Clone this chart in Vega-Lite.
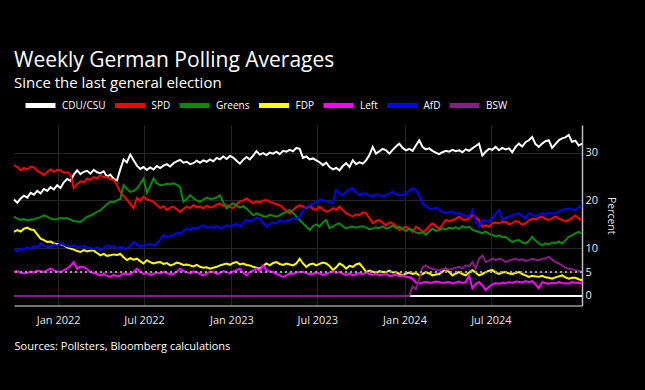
{
  "$schema": "https://vega.github.io/schema/vega-lite/v6.json",
  "width": 568,
  "height": 180.5,
  "autosize": {"type": "none"},
  "padding": {"left": 14, "top": 125, "right": 63, "bottom": 84.5},
  "background": "#000000",
  "title": {
    "text": "Weekly German Polling Averages",
    "subtitle": "Since the last general election",
    "anchor": "start",
    "frame": "group",
    "offset": -3,
    "font": "Open Sans",
    "subtitleFont": "Open Sans",
    "fontSize": 21,
    "subtitleFontSize": 15,
    "fontWeight": "normal",
    "subtitleFontWeight": "normal",
    "color": "#ffffff",
    "subtitleColor": "#ffffff",
    "subtitlePadding": 5.5
  },
  "data": {
    "values": [
      {"d":"2021-09-30","CDU/CSU":20.2,"SPD":27.4,"Greens":16.6,"FDP":13.4,"Left":5.0,"AfD":9.6,"BSW":0},
      {"d":"2021-10-07","CDU/CSU":19.5,"SPD":27.0,"Greens":16.2,"FDP":13.8,"Left":5.2,"AfD":9.4,"BSW":0},
      {"d":"2021-10-14","CDU/CSU":20.4,"SPD":26.3,"Greens":15.9,"FDP":13.5,"Left":4.9,"AfD":9.9,"BSW":0},
      {"d":"2021-10-21","CDU/CSU":21.0,"SPD":26.8,"Greens":16.1,"FDP":14.1,"Left":4.7,"AfD":9.7,"BSW":0},
      {"d":"2021-10-28","CDU/CSU":20.6,"SPD":26.5,"Greens":15.8,"FDP":14.3,"Left":4.8,"AfD":10.2,"BSW":0},
      {"d":"2021-11-04","CDU/CSU":21.6,"SPD":27.1,"Greens":16.0,"FDP":13.9,"Left":5.1,"AfD":9.8,"BSW":0},
      {"d":"2021-11-11","CDU/CSU":21.2,"SPD":26.9,"Greens":16.0,"FDP":13.8,"Left":4.9,"AfD":10.4,"BSW":0},
      {"d":"2021-11-18","CDU/CSU":22.0,"SPD":26.2,"Greens":16.3,"FDP":12.9,"Left":5.3,"AfD":10.1,"BSW":0},
      {"d":"2021-11-25","CDU/CSU":21.5,"SPD":25.8,"Greens":16.5,"FDP":12.0,"Left":5.2,"AfD":11.0,"BSW":0},
      {"d":"2021-12-02","CDU/CSU":22.4,"SPD":25.3,"Greens":16.9,"FDP":11.7,"Left":5.0,"AfD":10.6,"BSW":0},
      {"d":"2021-12-09","CDU/CSU":22.0,"SPD":26.0,"Greens":16.6,"FDP":11.3,"Left":5.4,"AfD":10.2,"BSW":0},
      {"d":"2021-12-16","CDU/CSU":22.8,"SPD":26.5,"Greens":16.2,"FDP":11.4,"Left":5.7,"AfD":10.3,"BSW":0},
      {"d":"2021-12-23","CDU/CSU":22.3,"SPD":26.0,"Greens":16.0,"FDP":11.0,"Left":5.3,"AfD":10.8,"BSW":0},
      {"d":"2021-12-30","CDU/CSU":23.2,"SPD":26.4,"Greens":16.1,"FDP":10.9,"Left":5.1,"AfD":10.5,"BSW":0},
      {"d":"2022-01-06","CDU/CSU":22.6,"SPD":26.3,"Greens":16.3,"FDP":10.8,"Left":5.0,"AfD":11.0,"BSW":0},
      {"d":"2022-01-13","CDU/CSU":23.8,"SPD":25.8,"Greens":16.2,"FDP":10.6,"Left":5.4,"AfD":10.7,"BSW":0},
      {"d":"2022-01-20","CDU/CSU":24.5,"SPD":25.9,"Greens":16.3,"FDP":10.2,"Left":5.7,"AfD":10.4,"BSW":0},
      {"d":"2022-01-27","CDU/CSU":24.1,"SPD":25.4,"Greens":16.0,"FDP":9.9,"Left":6.3,"AfD":10.3,"BSW":0},
      {"d":"2022-02-03","CDU/CSU":25.4,"SPD":22.6,"Greens":15.7,"FDP":9.7,"Left":7.1,"AfD":10.6,"BSW":0},
      {"d":"2022-02-10","CDU/CSU":26.3,"SPD":23.4,"Greens":15.6,"FDP":9.4,"Left":5.7,"AfD":10.2,"BSW":0},
      {"d":"2022-02-17","CDU/CSU":25.5,"SPD":24.0,"Greens":15.5,"FDP":9.2,"Left":6.1,"AfD":10.3,"BSW":0},
      {"d":"2022-02-24","CDU/CSU":26.0,"SPD":23.8,"Greens":16.0,"FDP":9.6,"Left":6.0,"AfD":10.5,"BSW":0},
      {"d":"2022-03-03","CDU/CSU":26.2,"SPD":24.6,"Greens":16.6,"FDP":9.3,"Left":5.6,"AfD":10.1,"BSW":0},
      {"d":"2022-03-10","CDU/CSU":25.6,"SPD":24.3,"Greens":16.8,"FDP":9.5,"Left":5.0,"AfD":10.0,"BSW":0},
      {"d":"2022-03-17","CDU/CSU":26.4,"SPD":24.9,"Greens":17.2,"FDP":9.5,"Left":4.8,"AfD":9.8,"BSW":0},
      {"d":"2022-03-24","CDU/CSU":25.9,"SPD":24.6,"Greens":17.6,"FDP":9.0,"Left":4.6,"AfD":10.2,"BSW":0},
      {"d":"2022-03-31","CDU/CSU":25.7,"SPD":25.3,"Greens":17.9,"FDP":8.5,"Left":4.3,"AfD":9.6,"BSW":0},
      {"d":"2022-04-07","CDU/CSU":26.1,"SPD":24.8,"Greens":18.6,"FDP":8.8,"Left":4.6,"AfD":10.0,"BSW":0},
      {"d":"2022-04-14","CDU/CSU":25.0,"SPD":24.9,"Greens":19.2,"FDP":8.4,"Left":4.2,"AfD":10.6,"BSW":0},
      {"d":"2022-04-21","CDU/CSU":25.4,"SPD":24.5,"Greens":19.7,"FDP":8.5,"Left":4.0,"AfD":10.2,"BSW":0},
      {"d":"2022-04-28","CDU/CSU":24.5,"SPD":24.3,"Greens":19.6,"FDP":8.7,"Left":4.4,"AfD":10.4,"BSW":0},
      {"d":"2022-05-05","CDU/CSU":24.2,"SPD":23.2,"Greens":20.0,"FDP":8.6,"Left":4.1,"AfD":9.9,"BSW":0},
      {"d":"2022-05-12","CDU/CSU":26.5,"SPD":21.8,"Greens":20.3,"FDP":8.8,"Left":4.3,"AfD":10.3,"BSW":0},
      {"d":"2022-05-19","CDU/CSU":28.6,"SPD":21.0,"Greens":23.2,"FDP":8.1,"Left":4.7,"AfD":10.0,"BSW":0},
      {"d":"2022-05-26","CDU/CSU":28.0,"SPD":20.1,"Greens":22.4,"FDP":7.5,"Left":4.5,"AfD":9.9,"BSW":0},
      {"d":"2022-06-02","CDU/CSU":29.6,"SPD":19.3,"Greens":21.8,"FDP":7.9,"Left":4.6,"AfD":10.5,"BSW":0},
      {"d":"2022-06-09","CDU/CSU":28.4,"SPD":18.4,"Greens":22.0,"FDP":7.6,"Left":5.0,"AfD":11.3,"BSW":0},
      {"d":"2022-06-16","CDU/CSU":27.3,"SPD":20.5,"Greens":22.5,"FDP":7.8,"Left":5.7,"AfD":10.8,"BSW":0},
      {"d":"2022-06-23","CDU/CSU":26.6,"SPD":19.9,"Greens":23.5,"FDP":7.3,"Left":5.0,"AfD":10.3,"BSW":0},
      {"d":"2022-06-30","CDU/CSU":27.0,"SPD":20.8,"Greens":24.6,"FDP":6.8,"Left":4.6,"AfD":10.6,"BSW":0},
      {"d":"2022-07-07","CDU/CSU":26.4,"SPD":20.2,"Greens":21.6,"FDP":7.5,"Left":4.8,"AfD":10.6,"BSW":0},
      {"d":"2022-07-14","CDU/CSU":26.9,"SPD":20.0,"Greens":23.0,"FDP":7.1,"Left":4.4,"AfD":10.9,"BSW":0},
      {"d":"2022-07-21","CDU/CSU":26.5,"SPD":19.7,"Greens":24.6,"FDP":6.8,"Left":4.6,"AfD":10.5,"BSW":0},
      {"d":"2022-07-28","CDU/CSU":27.2,"SPD":19.0,"Greens":23.6,"FDP":7.0,"Left":4.9,"AfD":11.0,"BSW":0},
      {"d":"2022-08-04","CDU/CSU":26.8,"SPD":18.4,"Greens":23.2,"FDP":7.1,"Left":4.7,"AfD":11.8,"BSW":0},
      {"d":"2022-08-11","CDU/CSU":27.3,"SPD":18.8,"Greens":23.3,"FDP":6.7,"Left":5.0,"AfD":12.7,"BSW":0},
      {"d":"2022-08-18","CDU/CSU":27.6,"SPD":18.0,"Greens":23.5,"FDP":6.9,"Left":4.8,"AfD":12.3,"BSW":0},
      {"d":"2022-08-25","CDU/CSU":27.1,"SPD":18.5,"Greens":23.4,"FDP":6.4,"Left":4.5,"AfD":12.5,"BSW":0},
      {"d":"2022-09-01","CDU/CSU":27.8,"SPD":18.7,"Greens":23.6,"FDP":6.6,"Left":4.6,"AfD":12.7,"BSW":0},
      {"d":"2022-09-08","CDU/CSU":28.2,"SPD":18.1,"Greens":23.3,"FDP":7.0,"Left":5.0,"AfD":13.2,"BSW":0},
      {"d":"2022-09-15","CDU/CSU":28.5,"SPD":17.6,"Greens":22.8,"FDP":6.8,"Left":5.7,"AfD":13.0,"BSW":0},
      {"d":"2022-09-22","CDU/CSU":27.9,"SPD":18.2,"Greens":19.7,"FDP":6.5,"Left":5.2,"AfD":13.6,"BSW":0},
      {"d":"2022-09-29","CDU/CSU":28.1,"SPD":18.7,"Greens":20.3,"FDP":6.6,"Left":5.0,"AfD":14.1,"BSW":0},
      {"d":"2022-10-06","CDU/CSU":27.6,"SPD":18.4,"Greens":21.1,"FDP":6.4,"Left":4.7,"AfD":13.8,"BSW":0},
      {"d":"2022-10-13","CDU/CSU":27.8,"SPD":19.0,"Greens":20.5,"FDP":6.2,"Left":5.1,"AfD":14.3,"BSW":0},
      {"d":"2022-10-20","CDU/CSU":28.3,"SPD":18.6,"Greens":20.0,"FDP":6.5,"Left":5.0,"AfD":14.0,"BSW":0},
      {"d":"2022-10-27","CDU/CSU":27.9,"SPD":18.7,"Greens":19.7,"FDP":6.1,"Left":4.6,"AfD":14.5,"BSW":0},
      {"d":"2022-11-03","CDU/CSU":28.4,"SPD":18.3,"Greens":20.2,"FDP":5.9,"Left":4.3,"AfD":14.8,"BSW":0},
      {"d":"2022-11-10","CDU/CSU":28.1,"SPD":18.9,"Greens":20.6,"FDP":6.0,"Left":4.7,"AfD":14.3,"BSW":0},
      {"d":"2022-11-17","CDU/CSU":28.6,"SPD":18.5,"Greens":20.3,"FDP":5.7,"Left":5.1,"AfD":14.5,"BSW":0},
      {"d":"2022-11-24","CDU/CSU":28.2,"SPD":18.7,"Greens":20.4,"FDP":5.9,"Left":5.0,"AfD":14.2,"BSW":0},
      {"d":"2022-12-01","CDU/CSU":28.9,"SPD":19.1,"Greens":20.6,"FDP":6.1,"Left":4.6,"AfD":14.6,"BSW":0},
      {"d":"2022-12-08","CDU/CSU":28.6,"SPD":19.4,"Greens":21.1,"FDP":6.4,"Left":4.8,"AfD":14.1,"BSW":0},
      {"d":"2022-12-15","CDU/CSU":29.2,"SPD":18.8,"Greens":19.6,"FDP":6.6,"Left":5.2,"AfD":14.4,"BSW":0},
      {"d":"2022-12-22","CDU/CSU":28.7,"SPD":19.0,"Greens":18.3,"FDP":6.8,"Left":5.0,"AfD":14.8,"BSW":0},
      {"d":"2022-12-29","CDU/CSU":29.3,"SPD":18.6,"Greens":19.0,"FDP":6.5,"Left":4.7,"AfD":14.5,"BSW":0},
      {"d":"2023-01-05","CDU/CSU":29.0,"SPD":18.4,"Greens":19.4,"FDP":6.9,"Left":5.1,"AfD":14.8,"BSW":0},
      {"d":"2023-01-12","CDU/CSU":28.3,"SPD":19.2,"Greens":18.9,"FDP":7.1,"Left":5.4,"AfD":15.1,"BSW":0},
      {"d":"2023-01-19","CDU/CSU":27.7,"SPD":19.8,"Greens":18.5,"FDP":6.6,"Left":5.7,"AfD":14.5,"BSW":0},
      {"d":"2023-01-26","CDU/CSU":28.5,"SPD":20.0,"Greens":18.8,"FDP":6.8,"Left":4.9,"AfD":15.2,"BSW":0},
      {"d":"2023-02-02","CDU/CSU":29.1,"SPD":20.4,"Greens":18.3,"FDP":6.5,"Left":4.3,"AfD":15.9,"BSW":0},
      {"d":"2023-02-09","CDU/CSU":28.6,"SPD":19.9,"Greens":17.6,"FDP":6.4,"Left":5.0,"AfD":15.6,"BSW":0},
      {"d":"2023-02-16","CDU/CSU":29.4,"SPD":19.4,"Greens":16.9,"FDP":6.1,"Left":5.3,"AfD":15.9,"BSW":0},
      {"d":"2023-02-23","CDU/CSU":30.3,"SPD":19.8,"Greens":17.3,"FDP":5.9,"Left":5.7,"AfD":16.4,"BSW":0},
      {"d":"2023-03-02","CDU/CSU":29.6,"SPD":19.6,"Greens":17.0,"FDP":5.7,"Left":5.2,"AfD":16.2,"BSW":0},
      {"d":"2023-03-09","CDU/CSU":29.9,"SPD":20.0,"Greens":16.7,"FDP":6.3,"Left":6.4,"AfD":15.3,"BSW":0},
      {"d":"2023-03-16","CDU/CSU":29.5,"SPD":20.1,"Greens":16.6,"FDP":6.8,"Left":5.4,"AfD":14.5,"BSW":0},
      {"d":"2023-03-23","CDU/CSU":30.0,"SPD":19.7,"Greens":17.0,"FDP":6.4,"Left":5.1,"AfD":15.0,"BSW":0},
      {"d":"2023-03-30","CDU/CSU":29.8,"SPD":19.5,"Greens":16.8,"FDP":6.9,"Left":5.0,"AfD":15.4,"BSW":0},
      {"d":"2023-04-06","CDU/CSU":30.2,"SPD":19.2,"Greens":16.6,"FDP":7.1,"Left":4.6,"AfD":15.2,"BSW":0},
      {"d":"2023-04-13","CDU/CSU":29.7,"SPD":19.0,"Greens":16.9,"FDP":6.7,"Left":4.3,"AfD":15.9,"BSW":0},
      {"d":"2023-04-20","CDU/CSU":30.4,"SPD":18.4,"Greens":17.3,"FDP":6.5,"Left":4.0,"AfD":15.5,"BSW":0},
      {"d":"2023-04-27","CDU/CSU":30.2,"SPD":17.8,"Greens":17.6,"FDP":6.8,"Left":4.3,"AfD":15.7,"BSW":0},
      {"d":"2023-05-04","CDU/CSU":30.6,"SPD":17.3,"Greens":18.0,"FDP":6.6,"Left":4.7,"AfD":15.9,"BSW":0},
      {"d":"2023-05-11","CDU/CSU":30.3,"SPD":18.0,"Greens":17.4,"FDP":6.4,"Left":4.6,"AfD":16.3,"BSW":0},
      {"d":"2023-05-18","CDU/CSU":31.0,"SPD":18.6,"Greens":16.6,"FDP":6.8,"Left":4.9,"AfD":16.0,"BSW":0},
      {"d":"2023-05-25","CDU/CSU":30.8,"SPD":19.0,"Greens":15.9,"FDP":7.8,"Left":5.0,"AfD":16.6,"BSW":0},
      {"d":"2023-06-01","CDU/CSU":28.9,"SPD":18.7,"Greens":15.2,"FDP":6.8,"Left":5.0,"AfD":17.8,"BSW":0},
      {"d":"2023-06-08","CDU/CSU":29.2,"SPD":18.4,"Greens":14.5,"FDP":6.1,"Left":4.8,"AfD":18.7,"BSW":0},
      {"d":"2023-06-15","CDU/CSU":28.6,"SPD":18.9,"Greens":13.8,"FDP":6.6,"Left":4.5,"AfD":18.9,"BSW":0},
      {"d":"2023-06-22","CDU/CSU":28.8,"SPD":18.2,"Greens":14.6,"FDP":6.8,"Left":4.6,"AfD":19.4,"BSW":0},
      {"d":"2023-06-29","CDU/CSU":28.4,"SPD":18.0,"Greens":15.0,"FDP":6.4,"Left":4.9,"AfD":19.6,"BSW":0},
      {"d":"2023-07-06","CDU/CSU":28.0,"SPD":18.7,"Greens":14.5,"FDP":6.7,"Left":4.7,"AfD":20.1,"BSW":0},
      {"d":"2023-07-13","CDU/CSU":27.4,"SPD":18.1,"Greens":15.4,"FDP":7.0,"Left":4.4,"AfD":20.1,"BSW":0},
      {"d":"2023-07-20","CDU/CSU":27.9,"SPD":17.6,"Greens":15.9,"FDP":6.8,"Left":4.6,"AfD":19.8,"BSW":0},
      {"d":"2023-07-27","CDU/CSU":27.0,"SPD":17.9,"Greens":14.2,"FDP":6.3,"Left":4.9,"AfD":19.6,"BSW":0},
      {"d":"2023-08-03","CDU/CSU":26.5,"SPD":18.4,"Greens":14.5,"FDP":5.4,"Left":5.1,"AfD":19.4,"BSW":0},
      {"d":"2023-08-10","CDU/CSU":26.8,"SPD":18.0,"Greens":15.0,"FDP":6.0,"Left":4.8,"AfD":22.2,"BSW":0},
      {"d":"2023-08-17","CDU/CSU":26.3,"SPD":18.7,"Greens":15.2,"FDP":6.8,"Left":5.0,"AfD":21.4,"BSW":0},
      {"d":"2023-08-24","CDU/CSU":27.2,"SPD":18.0,"Greens":14.6,"FDP":6.4,"Left":4.6,"AfD":21.1,"BSW":0},
      {"d":"2023-08-31","CDU/CSU":27.8,"SPD":17.3,"Greens":14.1,"FDP":5.7,"Left":4.4,"AfD":21.8,"BSW":0},
      {"d":"2023-09-07","CDU/CSU":27.0,"SPD":17.0,"Greens":14.4,"FDP":6.3,"Left":4.7,"AfD":22.3,"BSW":0},
      {"d":"2023-09-14","CDU/CSU":28.4,"SPD":16.6,"Greens":14.5,"FDP":6.1,"Left":4.3,"AfD":22.5,"BSW":0},
      {"d":"2023-09-21","CDU/CSU":27.6,"SPD":17.1,"Greens":14.3,"FDP":6.6,"Left":4.6,"AfD":21.7,"BSW":0},
      {"d":"2023-09-28","CDU/CSU":28.0,"SPD":16.9,"Greens":14.5,"FDP":6.8,"Left":4.8,"AfD":21.1,"BSW":0},
      {"d":"2023-10-05","CDU/CSU":27.7,"SPD":17.5,"Greens":14.6,"FDP":6.0,"Left":4.5,"AfD":21.5,"BSW":0},
      {"d":"2023-10-12","CDU/CSU":28.4,"SPD":17.3,"Greens":14.3,"FDP":5.0,"Left":5.0,"AfD":21.4,"BSW":0},
      {"d":"2023-10-19","CDU/CSU":29.5,"SPD":16.3,"Greens":14.0,"FDP":5.3,"Left":4.6,"AfD":21.0,"BSW":0},
      {"d":"2023-10-26","CDU/CSU":31.2,"SPD":15.2,"Greens":14.1,"FDP":5.1,"Left":4.4,"AfD":20.8,"BSW":0},
      {"d":"2023-11-02","CDU/CSU":29.8,"SPD":15.7,"Greens":14.4,"FDP":4.8,"Left":4.7,"AfD":21.3,"BSW":0},
      {"d":"2023-11-09","CDU/CSU":30.3,"SPD":15.9,"Greens":14.2,"FDP":5.2,"Left":4.3,"AfD":21.1,"BSW":0},
      {"d":"2023-11-16","CDU/CSU":30.8,"SPD":15.3,"Greens":14.6,"FDP":5.0,"Left":4.5,"AfD":20.9,"BSW":0},
      {"d":"2023-11-23","CDU/CSU":30.5,"SPD":14.8,"Greens":14.1,"FDP":5.0,"Left":4.6,"AfD":21.1,"BSW":0},
      {"d":"2023-11-30","CDU/CSU":29.8,"SPD":15.4,"Greens":14.3,"FDP":5.3,"Left":4.2,"AfD":21.5,"BSW":0},
      {"d":"2023-12-07","CDU/CSU":30.6,"SPD":15.2,"Greens":14.7,"FDP":4.9,"Left":4.3,"AfD":21.8,"BSW":0},
      {"d":"2023-12-14","CDU/CSU":31.3,"SPD":14.6,"Greens":14.2,"FDP":5.0,"Left":4.5,"AfD":21.3,"BSW":0},
      {"d":"2023-12-21","CDU/CSU":31.9,"SPD":13.8,"Greens":14.5,"FDP":4.6,"Left":4.1,"AfD":21.1,"BSW":0},
      {"d":"2023-12-28","CDU/CSU":31.0,"SPD":14.2,"Greens":14.0,"FDP":4.3,"Left":4.3,"AfD":21.2,"BSW":0},
      {"d":"2024-01-04","CDU/CSU":30.5,"SPD":14.5,"Greens":13.6,"FDP":4.7,"Left":4.0,"AfD":21.4,"BSW":0},
      {"d":"2024-01-11","CDU/CSU":30.8,"SPD":14.0,"Greens":14.1,"FDP":4.9,"Left":3.9,"AfD":22.0,"BSW":0},
      {"d":"2024-01-18","CDU/CSU":30.4,"SPD":13.4,"Greens":13.8,"FDP":4.6,"Left":3.6,"AfD":22.5,"BSW":2.0},
      {"d":"2024-01-25","CDU/CSU":31.5,"SPD":14.5,"Greens":13.3,"FDP":4.8,"Left":2.8,"AfD":22.2,"BSW":1.4},
      {"d":"2024-02-01","CDU/CSU":32.6,"SPD":14.0,"Greens":13.1,"FDP":4.3,"Left":2.6,"AfD":21.1,"BSW":3.5},
      {"d":"2024-02-08","CDU/CSU":31.2,"SPD":13.4,"Greens":13.4,"FDP":4.6,"Left":2.8,"AfD":19.4,"BSW":6.0},
      {"d":"2024-02-15","CDU/CSU":30.7,"SPD":13.8,"Greens":12.8,"FDP":5.0,"Left":2.9,"AfD":18.8,"BSW":6.4},
      {"d":"2024-02-22","CDU/CSU":30.9,"SPD":14.6,"Greens":13.5,"FDP":4.7,"Left":2.7,"AfD":18.3,"BSW":5.9},
      {"d":"2024-02-29","CDU/CSU":30.4,"SPD":15.2,"Greens":14.1,"FDP":4.3,"Left":2.8,"AfD":18.2,"BSW":5.7},
      {"d":"2024-03-07","CDU/CSU":30.0,"SPD":14.6,"Greens":13.6,"FDP":4.5,"Left":3.0,"AfD":18.5,"BSW":5.5},
      {"d":"2024-03-14","CDU/CSU":29.7,"SPD":14.1,"Greens":13.8,"FDP":4.6,"Left":2.9,"AfD":18.0,"BSW":5.4},
      {"d":"2024-03-21","CDU/CSU":30.1,"SPD":14.9,"Greens":14.2,"FDP":5.1,"Left":2.7,"AfD":17.6,"BSW":5.6},
      {"d":"2024-03-28","CDU/CSU":30.4,"SPD":15.9,"Greens":13.9,"FDP":5.7,"Left":2.8,"AfD":17.3,"BSW":5.7},
      {"d":"2024-04-04","CDU/CSU":30.2,"SPD":15.6,"Greens":14.3,"FDP":5.0,"Left":2.9,"AfD":17.7,"BSW":5.5},
      {"d":"2024-04-11","CDU/CSU":30.6,"SPD":15.9,"Greens":14.1,"FDP":4.3,"Left":2.6,"AfD":17.6,"BSW":5.7},
      {"d":"2024-04-18","CDU/CSU":30.3,"SPD":16.2,"Greens":14.4,"FDP":4.7,"Left":2.8,"AfD":17.2,"BSW":5.9},
      {"d":"2024-04-25","CDU/CSU":30.5,"SPD":16.6,"Greens":14.0,"FDP":5.0,"Left":3.0,"AfD":17.3,"BSW":6.1},
      {"d":"2024-05-02","CDU/CSU":30.1,"SPD":16.0,"Greens":14.6,"FDP":4.6,"Left":2.7,"AfD":17.0,"BSW":5.8},
      {"d":"2024-05-09","CDU/CSU":30.7,"SPD":15.9,"Greens":14.3,"FDP":4.3,"Left":2.9,"AfD":16.8,"BSW":6.4},
      {"d":"2024-05-16","CDU/CSU":30.4,"SPD":16.3,"Greens":14.5,"FDP":4.9,"Left":4.3,"AfD":16.6,"BSW":6.2},
      {"d":"2024-05-23","CDU/CSU":30.9,"SPD":16.9,"Greens":13.9,"FDP":5.4,"Left":1.6,"AfD":18.0,"BSW":7.1},
      {"d":"2024-05-30","CDU/CSU":31.4,"SPD":16.4,"Greens":13.6,"FDP":4.9,"Left":2.5,"AfD":15.9,"BSW":5.7},
      {"d":"2024-06-06","CDU/CSU":31.9,"SPD":15.9,"Greens":13.4,"FDP":4.3,"Left":2.9,"AfD":14.5,"BSW":7.8},
      {"d":"2024-06-13","CDU/CSU":29.4,"SPD":14.5,"Greens":13.1,"FDP":4.6,"Left":2.2,"AfD":15.9,"BSW":8.5},
      {"d":"2024-06-20","CDU/CSU":30.2,"SPD":14.8,"Greens":13.5,"FDP":5.0,"Left":1.2,"AfD":15.7,"BSW":7.1},
      {"d":"2024-06-27","CDU/CSU":30.8,"SPD":14.5,"Greens":13.0,"FDP":5.3,"Left":1.9,"AfD":15.5,"BSW":7.4},
      {"d":"2024-07-04","CDU/CSU":30.6,"SPD":15.2,"Greens":12.8,"FDP":5.4,"Left":2.4,"AfD":16.3,"BSW":7.8},
      {"d":"2024-07-11","CDU/CSU":31.2,"SPD":15.4,"Greens":12.4,"FDP":4.9,"Left":2.7,"AfD":17.2,"BSW":7.5},
      {"d":"2024-07-18","CDU/CSU":30.5,"SPD":15.2,"Greens":12.7,"FDP":4.6,"Left":2.5,"AfD":18.0,"BSW":7.8},
      {"d":"2024-07-25","CDU/CSU":31.0,"SPD":15.6,"Greens":12.3,"FDP":4.9,"Left":2.8,"AfD":15.9,"BSW":7.6},
      {"d":"2024-08-01","CDU/CSU":30.7,"SPD":15.5,"Greens":12.4,"FDP":5.0,"Left":2.6,"AfD":16.4,"BSW":7.1},
      {"d":"2024-08-08","CDU/CSU":30.9,"SPD":15.0,"Greens":11.8,"FDP":4.7,"Left":2.9,"AfD":16.6,"BSW":7.4},
      {"d":"2024-08-15","CDU/CSU":30.1,"SPD":15.2,"Greens":11.3,"FDP":4.6,"Left":2.7,"AfD":16.9,"BSW":7.6},
      {"d":"2024-08-22","CDU/CSU":31.2,"SPD":15.7,"Greens":11.6,"FDP":4.8,"Left":3.0,"AfD":17.1,"BSW":7.8},
      {"d":"2024-08-29","CDU/CSU":31.9,"SPD":15.5,"Greens":11.7,"FDP":5.0,"Left":2.9,"AfD":17.3,"BSW":7.5},
      {"d":"2024-09-05","CDU/CSU":31.3,"SPD":14.9,"Greens":11.2,"FDP":4.6,"Left":2.8,"AfD":16.8,"BSW":7.7},
      {"d":"2024-09-12","CDU/CSU":32.2,"SPD":15.2,"Greens":11.0,"FDP":4.3,"Left":3.1,"AfD":16.2,"BSW":7.3},
      {"d":"2024-09-19","CDU/CSU":32.6,"SPD":15.8,"Greens":11.5,"FDP":4.0,"Left":2.9,"AfD":17.3,"BSW":7.5},
      {"d":"2024-09-26","CDU/CSU":33.3,"SPD":16.2,"Greens":12.4,"FDP":4.2,"Left":3.1,"AfD":17.0,"BSW":7.8},
      {"d":"2024-10-03","CDU/CSU":31.8,"SPD":16.0,"Greens":11.6,"FDP":4.1,"Left":2.4,"AfD":16.6,"BSW":7.6},
      {"d":"2024-10-10","CDU/CSU":31.2,"SPD":16.4,"Greens":11.0,"FDP":4.0,"Left":1.6,"AfD":17.0,"BSW":7.5},
      {"d":"2024-10-17","CDU/CSU":31.9,"SPD":16.6,"Greens":10.6,"FDP":4.2,"Left":2.9,"AfD":17.3,"BSW":7.8},
      {"d":"2024-10-24","CDU/CSU":32.4,"SPD":16.1,"Greens":11.0,"FDP":3.9,"Left":2.7,"AfD":17.1,"BSW":7.9},
      {"d":"2024-10-31","CDU/CSU":32.6,"SPD":15.9,"Greens":10.8,"FDP":3.8,"Left":2.5,"AfD":17.4,"BSW":8.2},
      {"d":"2024-11-07","CDU/CSU":31.0,"SPD":16.3,"Greens":11.2,"FDP":3.6,"Left":2.8,"AfD":17.2,"BSW":7.6},
      {"d":"2024-11-14","CDU/CSU":31.8,"SPD":16.6,"Greens":11.0,"FDP":3.9,"Left":2.6,"AfD":17.3,"BSW":7.1},
      {"d":"2024-11-21","CDU/CSU":32.6,"SPD":16.2,"Greens":11.4,"FDP":4.1,"Left":2.9,"AfD":17.7,"BSW":6.8},
      {"d":"2024-11-28","CDU/CSU":33.0,"SPD":15.9,"Greens":11.0,"FDP":4.3,"Left":2.7,"AfD":18.0,"BSW":6.4},
      {"d":"2024-12-05","CDU/CSU":33.2,"SPD":15.6,"Greens":11.6,"FDP":3.9,"Left":2.6,"AfD":18.2,"BSW":6.0},
      {"d":"2024-12-12","CDU/CSU":33.7,"SPD":15.9,"Greens":12.4,"FDP":3.6,"Left":2.6,"AfD":18.3,"BSW":5.7},
      {"d":"2024-12-19","CDU/CSU":32.3,"SPD":16.3,"Greens":12.7,"FDP":3.8,"Left":2.9,"AfD":18.1,"BSW":5.6},
      {"d":"2024-12-26","CDU/CSU":32.5,"SPD":16.9,"Greens":13.1,"FDP":3.8,"Left":2.7,"AfD":18.0,"BSW":5.4},
      {"d":"2025-01-02","CDU/CSU":31.5,"SPD":16.2,"Greens":13.4,"FDP":3.5,"Left":2.8,"AfD":18.5,"BSW":5.2},
      {"d":"2025-01-09","CDU/CSU":31.9,"SPD":15.9,"Greens":13.1,"FDP":3.3,"Left":2.6,"AfD":19.0,"BSW":5.0}
    ]
  },
  "layer": [
    {
      "mark": {"type": "rule", "color": "#ffffff", "strokeWidth": 2},
      "encoding": {"y": {"datum": 0, "type": "quantitative"}}
    },
    {
      "transform": [
        {"fold": ["CDU/CSU", "SPD", "Greens", "FDP", "Left", "AfD", "BSW"], "as": ["party", "value"]}
      ],
      "mark": {"type": "line", "strokeWidth": 2, "interpolate": "linear"},
      "encoding": {
        "x": {
          "field": "d",
          "type": "temporal",
          "scale": {"nice": false},
          "axis": {
            "orient": "bottom",
            "values": [
              {"year": 2022, "month": 1, "date": 1},
              {"year": 2022, "month": 7, "date": 1},
              {"year": 2023, "month": 1, "date": 1},
              {"year": 2023, "month": 7, "date": 1},
              {"year": 2024, "month": 1, "date": 1},
              {"year": 2024, "month": 7, "date": 1}
            ],
            "format": "%b %Y",
            "labelFontSize": 11,
            "labelColor": "#e6e6e6",
            "labelPadding": 9,
            "ticks": false,
            "domain": true,
            "domainColor": "#9a9a9a",
            "domainWidth": 1.5,
            "grid": true,
            "gridColor": "#262626",
            "title": "Sources: Pollsters, Bloomberg calculations",
            "titleAnchor": "start",
            "titleAlign": "left",
            "titleFontSize": 11,
            "titleFontWeight": "normal",
            "titleColor": "#ffffff",
            "titlePadding": 15
          }
        },
        "y": {
          "field": "value",
          "type": "quantitative",
          "scale": {"domain": [-2, 35.8], "nice": false, "zero": false},
          "axis": {
            "orient": "right",
            "values": [0, 5, 10, 20, 30],
            "labelFontSize": 11,
            "labelColor": "#e6e6e6",
            "labelPadding": 3,
            "ticks": false,
            "domain": true,
            "domainColor": "#bdbdbd",
            "domainWidth": 1.5,
            "grid": true,
            "gridColor": "#262626",
            "title": "Percent",
            "titleFontSize": 10.5,
            "titleFontWeight": "normal",
            "titleColor": "#e6e6e6",
            "titlePadding": 8
          }
        },
        "color": {
          "field": "party",
          "type": "nominal",
          "scale": {
            "domain": ["CDU/CSU", "SPD", "Greens", "FDP", "Left", "AfD", "BSW"],
            "range": ["#ffffff", "#ff0000", "#0a8a0a", "#ffff00", "#ff00ff", "#0000ff", "#8b1a8b"]
          },
          "legend": {
            "title": null,
            "orient": "none",
            "legendX": 9,
            "legendY": -37,
            "direction": "horizontal",
            "columns": 7,
            "gridAlign": "none",
            "symbolType": "stroke",
            "symbolSize": 900,
            "symbolStrokeWidth": 5,
            "labelFont": "Open Sans",
            "labelFontSize": 10,
            "labelColor": "#ffffff",
            "labelOffset": 4,
            "columnPadding": -1.5,
            "padding": 0
          }
        }
      }
    },
    {
      "mark": {"type": "rule", "color": "#a0a0a0", "strokeWidth": 1, "strokeDash": [2, 3]},
      "encoding": {"y": {"datum": 5, "type": "quantitative"}}
    }
  ],
  "config": {
    "font": "Open Sans",
    "view": {"stroke": null}
  }
}
